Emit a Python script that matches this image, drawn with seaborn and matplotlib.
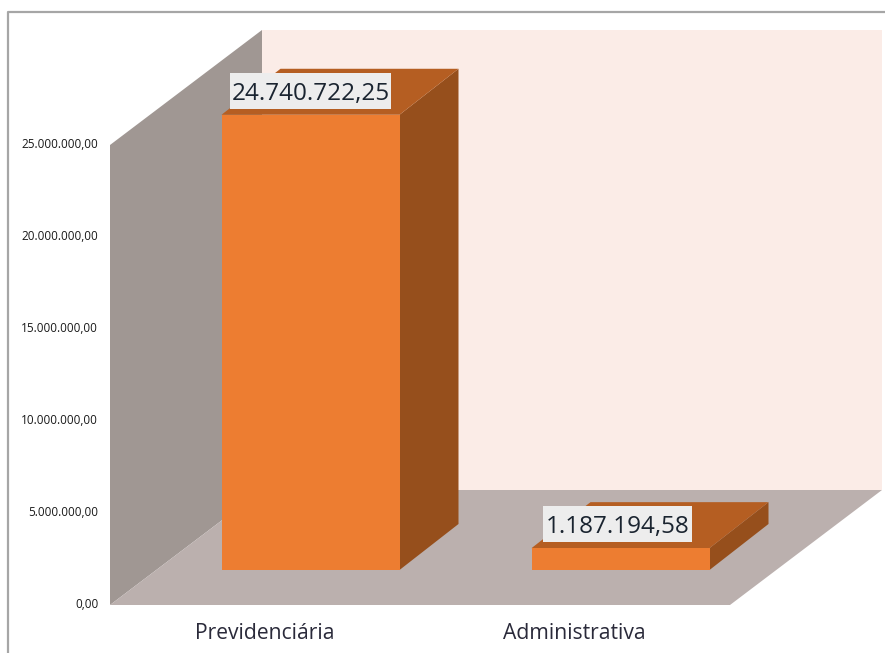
import matplotlib
matplotlib.use("Agg")
import matplotlib.pyplot as plt
from matplotlib.lines import Line2D
from matplotlib.patches import Polygon, Rectangle
from matplotlib.transforms import ScaledTranslation
import seaborn as sns

categories = ["Previdenciária", "Administrativa"]
values = [24740722.25, 1187194.58]
value_labels = ["24.740.722,25", "1.187.194,58"]
y_ticks = [0, 5000000, 10000000, 15000000, 20000000, 25000000]
y_tick_labels = ["0,00", "5.000.000,00", "10.000.000,00", "15.000.000,00", "20.000.000,00", "25.000.000,00"]

W, H = 885, 653
FRONT = "#ED7D31"
TOP = "#B55E22"
SIDE = "#964F1C"
WALL = "#A09793"
FLOOR = "#BBB0AE"
BACK = "#FBECE7"

sns.set_theme(style="white")
plt.rcParams["font.family"] = ["Open Sans", "DejaVu Sans"]

fig = plt.figure(figsize=(W / 100, H / 100), dpi=100)
ax = fig.add_axes([110 / W, (H - 605) / H, 620 / W, 460 / H])

# pixels to data units
ux = 2.0 / 620
uy = 25000000 / 460
floor_gap = 35 * uy

sns.barplot(x=categories, y=values, color=FRONT, saturation=1, width=178 / 310,
            bottom=floor_gap, linewidth=0, ax=ax)
ax.set_xlim(-200.5 * ux, 419.5 * ux)
ax.set_ylim(0, 25000000)
x0, x1 = ax.get_xlim()
y1 = ax.get_ylim()[1]

# walls and floor of the 3d box
wx, wy = 152 * ux, 115 * uy
ax.add_patch(Polygon([(x0 + wx, wy), (x1 + wx, wy), (x1 + wx, y1 + wy), (x0 + wx, y1 + wy)],
                     fc=BACK, ec="none", zorder=0.2, clip_on=False))
ax.add_patch(Polygon([(x0, 0), (x0, y1), (x0 + wx, y1 + wy), (x0 + wx, wy)],
                     fc=WALL, ec="none", zorder=0.3, clip_on=False))
ax.add_patch(Polygon([(x0, 0), (x1, 0), (x1 + wx, wy), (x0 + wx, wy)],
                     fc=FLOOR, ec="none", zorder=0.3, clip_on=False))

# side and top faces from the seaborn bars
dx, dy = 59 * ux, 46 * uy
for bar, label in zip(list(ax.patches)[:2], value_labels):
    bar.set_clip_on(False)
    bar.set_zorder(3)
    left, right = bar.get_x(), bar.get_x() + bar.get_width()
    low, high = bar.get_y(), bar.get_y() + bar.get_height()
    ax.add_patch(Polygon([(right, low), (right + dx, low + dy), (right + dx, high + dy), (right, high)],
                         fc=SIDE, ec="none", zorder=2, clip_on=False))
    ax.add_patch(Polygon([(left, high), (right, high), (right + dx, high + dy), (left + dx, high + dy)],
                         fc=TOP, ec="none", zorder=2, clip_on=False))
    # small labels sit a bit left of the bar centre
    mid = (left + right) / 2 - (3 * ux if high < 5000000 else 0)
    box_w = (len(label) * 12.3 + 2) * ux
    ax.add_patch(Rectangle((mid - box_w / 2, high + 6 * uy), box_w, 36 * uy,
                           fc="#EDEDED", ec="none", zorder=4, clip_on=False))
    ax.text(mid, high + 24 * uy, label, ha="center", va="center_baseline", fontsize=17.5,
            color="#1A2430", zorder=5, clip_on=False)

ax.set_yticks(y_ticks, y_tick_labels)
ax.tick_params(axis="y", length=0, pad=8.5, labelsize=8.5, labelcolor="#1A1A1A")
ax.tick_params(axis="x", length=0, pad=13, labelsize=15.2, labelcolor="#2A2A3A")
for tick in ax.get_yticklabels():
    tick.set_transform(tick.get_transform() + ScaledTranslation(0, 1.8 / 72, fig.dpi_scale_trans))
for tick in ax.get_xticklabels():
    tick.set_transform(tick.get_transform() + ScaledTranslation(-46 / 100, 0, fig.dpi_scale_trans))

ax.patch.set_visible(False)
sns.despine(ax=ax, left=True, bottom=True)

# chart frame, cut off on the right and at the bottom
fig.add_artist(Line2D([8 / W, 8 / W, 1], [0, 1 - 12 / H, 1 - 12 / H], color="#A6A6A6", lw=1.6))

fig.savefig("out.png", dpi=100)
